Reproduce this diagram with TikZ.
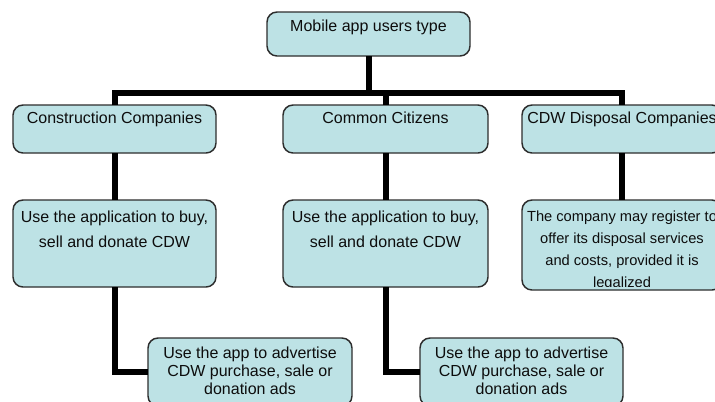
\documentclass[tikz,border=0pt]{standalone}
\usepackage{fontspec}
\setmainfont{Liberation Sans}
\usetikzlibrary{calc}

\definecolor{boxfill}{RGB}{189,226,229}
\definecolor{boxline}{RGB}{45,45,45}

\tikzset{every picture/.style={line width=0.75pt}}
\tikzset{
  userbox/.style={draw=boxline, line width=1.1pt, fill=boxfill, rounded corners=7.5pt,
    anchor=north west, inner sep=0pt, outer sep=0pt},
  boxtext/.style={anchor=north, inner sep=0pt, align=center, text=black!95,
    font=\fontsize{12}{18.75}\selectfont},
  link/.style={line width=4.5pt, black},
}

\begin{document}
\begin{tikzpicture}[x=0.75pt,y=0.75pt,yscale=-1,xscale=1]
		\useasboundingbox (0,0) rectangle (715,401);
		\coordinate (bar) at (368.5,92.5);
		
		%Shape: Rounded Rect [id:usertype]
		\node [userbox, minimum width=152.25pt, minimum height=33pt] (usertype) at (267,12) {};
		%Shape: Rounded Rect [id:cons]
		\node [userbox, minimum width=152.25pt, minimum height=36pt] (cons) at (13,105) {};
		%Shape: Rounded Rect [id:citz]
		\node [userbox, minimum width=153.75pt, minimum height=36pt] (citz) at (283,105) {};
		%Shape: Rounded Rect [id:cdw]
		\node [userbox, minimum width=150pt, minimum height=36pt] (cdw) at (522,105) {};
		%Shape: Rounded Rect [id:consuse]
		\node [userbox, minimum width=152.25pt, minimum height=65.25pt] (consuse) at (13,200) {};
		%Shape: Rounded Rect [id:citzuse]
		\node [userbox, minimum width=153.75pt, minimum height=65.25pt] (citzuse) at (283,200) {};
		%Shape: Rounded Rect [id:cdwuse]
		\node [userbox, minimum width=150pt, minimum height=67.5pt] (cdwuse) at (522,200) {};
		%Shape: Rounded Rect [id:consad]
		\node [userbox, minimum width=153pt, minimum height=51pt] (consad) at (148,338) {};
		%Shape: Rounded Rect [id:citzad]
		\node [userbox, minimum width=152.25pt, minimum height=51pt] (citzad) at (420,338) {};
		
		%Straight Lines [id:tree top]
		\draw [link] (usertype.south) -- (bar);
		\draw [link] (cons.north) |- (bar) -| (cdw.north);
		\draw [link] (citz.north) -- (citz.north |- bar);
		%Straight Lines [id:tree down]
		\draw [link] (cons.south) -- (consuse.north);
		\draw [link] (citz.south) -- (citzuse.north);
		\draw [link] (cdw.south) -- (cdwuse.north);
		\draw [link] (consuse.south) |- (consad.west);
		\draw [link] (citzuse.south) |- (citzad.west);
		
		% Text Node
		\node [boxtext] (usertypetxt) at ($(usertype.north)+(0,7.5)$) {Mobile app users type};
		% Text Node
		\node [boxtext] (constxt) at ($(cons.north)+(0,6.5)$) {Construction Companies};
		% Text Node
		\node [boxtext] (citztxt) at ($(citz.north)+(0,6.5)$) {Common Citizens};
		% Text Node
		\node [boxtext] (cdwtxt) at ($(cdw.north)+(0,6.5)$) {CDW Disposal Companies};
		% Text Node
		\node [boxtext] (consusetxt) at ($(consuse.north)+(0,10)$) {Use the application to buy,\\sell and donate CDW};
		% Text Node
		\node [boxtext] (citzusetxt) at ($(citzuse.north)+(0,10)$) {Use the application to buy,\\sell and donate CDW};
		% Text Node (overflows the box, last line cut off)
		\begin{scope}
			\clip [rounded corners=7.5pt] ($(cdwuse.north west)+(1,1)$) rectangle ($(cdwuse.south east)+(-1,-4)$);
			\node [boxtext, font=\fontsize{11}{16.6}\selectfont] (cdwusetxt) at ($(cdwuse.north)+(0,10)$)
				{The company may register to\\offer its disposal services\\and costs, provided it is\\legalized};
		\end{scope}
		% Text Node
		\node [boxtext, font=\fontsize{12}{13.7}\selectfont] (consadtxt) at ($(consad.north)+(0,8)$) {Use the app to advertise\\CDW purchase, sale or\\donation ads};
		% Text Node
		\node [boxtext, font=\fontsize{12}{13.7}\selectfont] (citzadtxt) at ($(citzad.north)+(0,8)$) {Use the app to advertise\\CDW purchase, sale or\\donation ads};
	\end{tikzpicture}
\end{document}
